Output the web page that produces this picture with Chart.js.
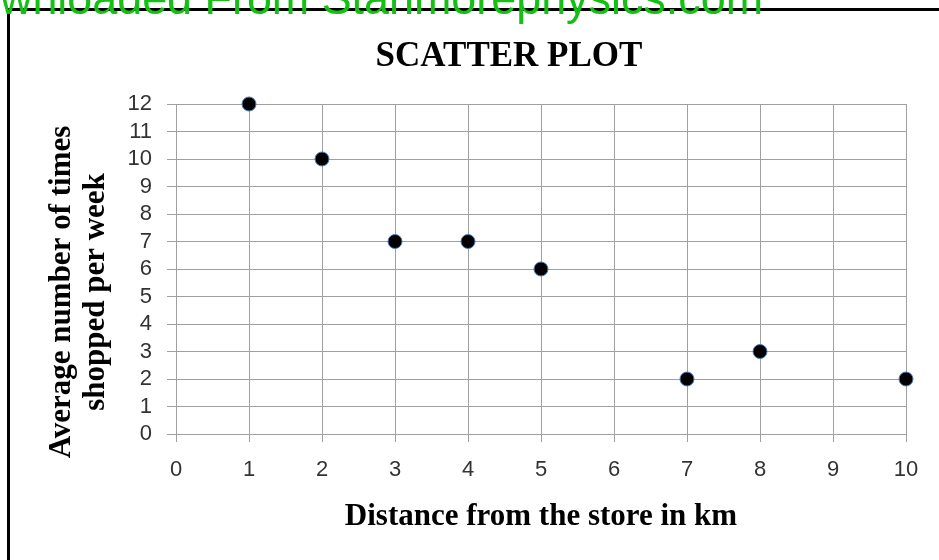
<!DOCTYPE html>
<html>
<head>
<meta charset="utf-8">
<script src="https://cdn.jsdelivr.net/npm/chart.js@4/dist/chart.umd.min.js"></script>
<style>
  html, body { margin: 0; padding: 0; background: #fff; overflow: hidden; }
  #wrap { position: relative; width: 939px; height: 560px; }
  #frame { position: absolute; left: 7px; top: 8px; width: 1000px; height: 600px;
           border-left: 3px solid #000; border-top: 3px solid #000; box-sizing: border-box; }
  canvas { position: absolute; left: 0; top: 0; }
  #wm { position: absolute; left: 0; top: 0; white-space: nowrap; color: rgb(20,192,20);
        font-family: "Liberation Sans", Arial, sans-serif; font-size: 46px; line-height: 1;
        transform-origin: 0 0; }
</style>
</head>
<body>
<div id="wrap">
  <div id="frame"></div>
  <canvas id="c" width="939" height="560"></canvas>
  <div id="wm">Downloaded From Stanmorephysics.com</div>
</div>
<script>
const chartTitle = "SCATTER PLOT";
const xTitle = "Distance from the store in km";
const yTitleLines = ["Average number of times", "shopped per week"];
const distanceKm = [1, 2, 3, 4, 5, 7, 8, 10];
const timesPerWeek = [12, 10, 7, 7, 6, 2, 3, 2];
const xTickRange = [0, 10];
const yTickRange = [0, 12];

const points = distanceKm.map((x, i) => ({ x: x, y: timesPerWeek[i] }));

// watermark placement (partially cut like the source)
(function () {
  const wm = document.getElementById('wm');
  const c = document.createElement('canvas').getContext('2d');
  c.font = '46px "Liberation Sans"';
  const full = c.measureText('Downloaded From Stanmorephysics.com').width;
  const cut = c.measureText('Do').width;
  const visible = full - cut;
  const sx = 763 / visible;
  wm.style.transform = 'translate(' + (-cut * sx) + 'px, -25px) scaleX(' + sx + ')';
})();

const textPlugin = {
  id: 'texts',
  afterDraw(chart) {
    const ctx = chart.ctx;
    const a = chart.chartArea;
    ctx.save();
    ctx.fillStyle = '#000';
    ctx.textAlign = 'center';
    ctx.textBaseline = 'middle';
    ctx.font = 'bold 35px "Liberation Serif", "Times New Roman", serif';
    ctx.fillText(chartTitle, 509, 57);
    ctx.font = 'bold 31px "Liberation Serif", "Times New Roman", serif';
    ctx.fillText(xTitle, (a.left + a.right) / 2, 517);
    ctx.translate(0, 292);
    ctx.rotate(-Math.PI / 2);
    ctx.fillText(yTitleLines[0], 0, 62);
    ctx.fillText(yTitleLines[1], 0, 96);
    ctx.restore();
  }
};

const gridColor = '#a0a0a0';
const tickFont = { family: '"Liberation Sans", Arial, sans-serif', size: 22 };

new Chart(document.getElementById('c'), {
  type: 'scatter',
  data: {
    datasets: [{
      data: points,
      backgroundColor: '#000',
      borderColor: '#4a7ebb',
      borderWidth: 1,
      pointRadius: 7,
      pointHoverRadius: 7,
      clip: false
    }]
  },
  options: {
    responsive: false,
    animation: false,
    events: [],
    layout: { padding: { left: 0, right: 33, top: 104, bottom: 0 } },
    plugins: { legend: { display: false }, tooltip: { enabled: false }, title: { display: false } },
    scales: {
      x: {
        type: 'linear',
        min: xTickRange[0], max: xTickRange[1],
        afterFit(s) { s.height = 126; },
        ticks: { stepSize: 1, autoSkip: false, color: '#333', font: tickFont, padding: 15, maxRotation: 0 },
        grid: { color: gridColor, lineWidth: 1, tickLength: 8, tickColor: gridColor, drawTicks: true },
        border: { color: gridColor, width: 1 }
      },
      y: {
        type: 'linear',
        min: yTickRange[0], max: yTickRange[1],
        afterFit(s) { s.width = 176; },
        ticks: { stepSize: 1, autoSkip: false, color: '#333', font: tickFont, padding: 15 },
        grid: { color: gridColor, lineWidth: 1, tickLength: 9, tickColor: gridColor },
        border: { color: gridColor, width: 1 }
      }
    }
  },
  plugins: [textPlugin]
});
</script>
</body>
</html>
